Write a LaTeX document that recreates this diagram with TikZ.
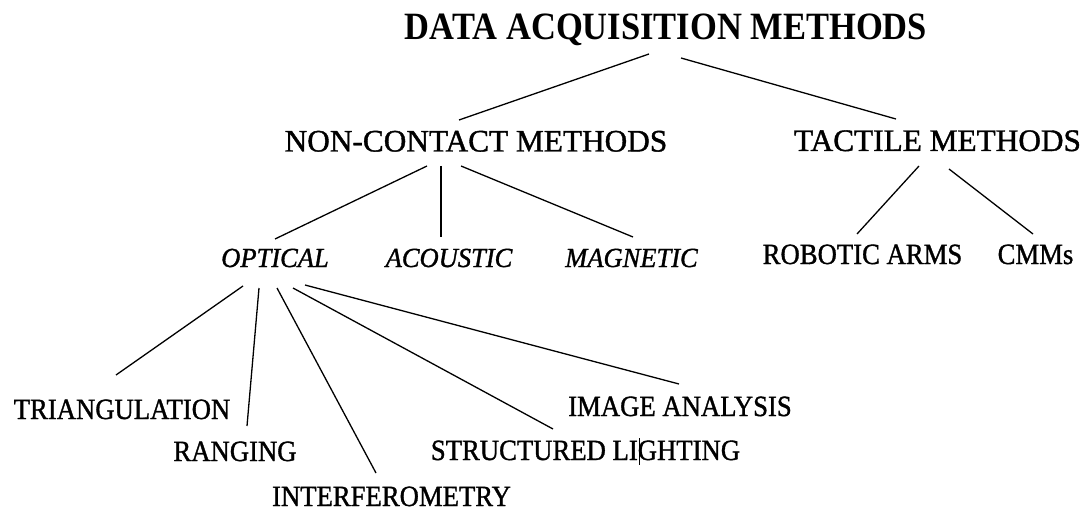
\documentclass[tikz,border=0pt]{standalone}
\usepackage{fontspec}
\usepackage{graphicx}
\setmainfont{Liberation Serif}
\newfontfamily\lblrm[RawFeature={embolden=1.2}]{Liberation Serif}
\newcommand{\tallA}[1]{\scalebox{1}[1.12]{#1}}
\newcommand{\tallB}[1]{\scalebox{1}[1.1]{#1}}
\begin{document}
\begin{tikzpicture}[x=1pt,y=-1pt,
  lbl/.style={inner sep=0pt,anchor=base},
  toplbl/.style={lbl,font=\fontsize{34.5}{40}\selectfont\bfseries},
  midlbl/.style={lbl,font=\lblrm\fontsize{31.3}{36}\selectfont},
  leaflbl/.style={lbl,font=\lblrm\fontsize{26.7}{31}\selectfont},
  itlbl/.style={lbl,font=\lblrm\fontsize{26.5}{31}\selectfont\itshape},
  conn/.style={draw=black,line width=1.3pt},
  caret/.style={draw=black,line width=0.8pt}]
\useasboundingbox (0,0) rectangle (1088,508);
\node[toplbl] (title) at (666,40) {\tallA{DATA ACQUISITION METHODS}};
\node[midlbl] (nc) at (476,151.5) {NON-CONTACT METHODS};
\node[midlbl] (tac) at (937.5,151) {TACTILE METHODS};
\node[itlbl] (opt) at (275,267) {\scalebox{1}[1.04]{OPTICAL}};
\node[itlbl] (aco) at (449,267) {\scalebox{1}[1.04]{ACOUSTIC}};
\node[itlbl] (mag) at (631.5,267) {\scalebox{1}[1.04]{MAGNETIC}};
\node[leaflbl] (rob) at (862.5,264) {\tallB{ROBOTIC ARMS}};
\node[leaflbl] (cmm) at (1035.5,264) {\tallB{CMMs}};
\node[leaflbl] (tri) at (122,419) {\tallB{TRIANGULATION}};
\node[leaflbl] (ran) at (235,461) {\tallB{RANGING}};
\node[leaflbl] (int) at (391.5,506) {\tallB{INTERFEROMETRY}};
\node[leaflbl] (str) at (585.5,460) {\tallB{STRUCTURED LIGHTING}};
\node[leaflbl] (img) at (680,416) {\tallB{IMAGE ANALYSIS}};
% connectors
\draw[conn] ([shift={(-17,14)}]title.base) -- ([shift={(-17,-31.5)}]nc.base);
\draw[conn] ([shift={(15,18)}]title.base) -- ([shift={(-41.5,-32)}]tac.base);
\draw[conn] ([shift={(-49,14.5)}]nc.base) -- ([shift={(0,-28)}]opt.base);
\draw[conn] ([shift={(-35,14.5)}]nc.base) -- ([shift={(-8,-30)}]aco.base);
\draw[conn] ([shift={(-15,14.5)}]nc.base) -- ([shift={(1.5,-30)}]mag.base);
\draw[conn] ([shift={(-18.5,15)}]tac.base) -- ([shift={(-5.5,-30)}]rob.base);
\draw[conn] ([shift={(11.5,18)}]tac.base) -- ([shift={(-2.5,-30)}]cmm.base);
\draw[conn] ([shift={(-32,19)}]opt.base) -- ([shift={(-6,-44)}]tri.base);
\draw[conn] ([shift={(-16,21)}]opt.base) -- ([shift={(12,-35)}]ran.base);
\draw[conn] ([shift={(2,21)}]opt.base) -- ([shift={(-15.5,-33)}]int.base);
\draw[conn] ([shift={(18,21)}]opt.base) -- ([shift={(-32.5,-31)}]str.base);
\draw[conn] ([shift={(30,18)}]opt.base) -- ([shift={(-1,-32)}]img.base);
% text cursor mark inside LIGHTING
\draw[caret] ([shift={(53.5,-22)}]str.base) -- ([shift={(53.5,5)}]str.base);
\end{tikzpicture}
\end{document}
